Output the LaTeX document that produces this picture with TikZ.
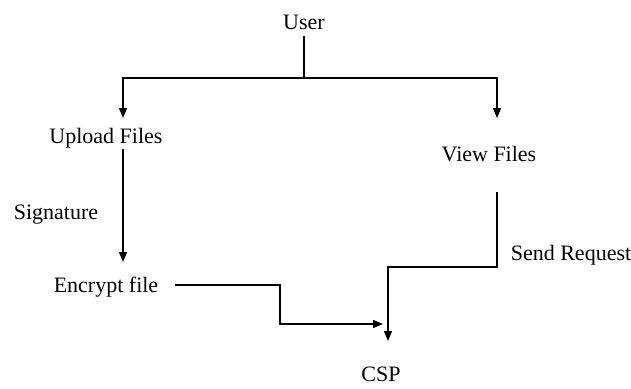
\documentclass[tikz,border=0pt]{standalone}
\usepackage{fontspec}
\setmainfont{Liberation Serif}
\usetikzlibrary{arrows.meta}
\begin{document}
\begin{tikzpicture}[x=1pt,y=-1pt,
  lbl/.style={inner sep=0pt,font=\fontsize{22}{24}\selectfont},
  conn/.style={line width=1.3pt},
  arr/.style={conn,-{Triangle[length=10pt,width=8pt]}}]
\useasboundingbox (0,0) rectangle (631,388);
\node[lbl] (user) at (304,22) {User};
\node[lbl] (upload) at (106,138) {Upload Files};
\node[lbl] (view) at (489,154) {View Files};
\node[lbl] (sig) at (56,215) {Signature};
\node[lbl] (enc) at (106,287) {Encrypt file};
\node[lbl] (send) at (571,255) {Send Request};
\node[lbl] (csp) at (381,374) {CSP};
% coordinates
\coordinate (ustem) at (304,36);
\coordinate (j) at (304,78);
\coordinate (ltip) at (123,118);
\coordinate (rtip) at (497,118);
\coordinate (ustart) at (123,149);
\coordinate (etip) at (123,262);
\coordinate (estart) at (175,285);
\coordinate (ebend) at (280,285);
\coordinate (ebend2) at (280,324);
\coordinate (ctip1) at (383,324);
\coordinate (vstart) at (497,192);
\coordinate (vbend) at (497,267);
\coordinate (vbend2) at (388,267);
\coordinate (ctip2) at (388,341);
\draw[conn] (ustem) -- (j);
\draw[arr] (j) -| (ltip);
\draw[arr] (j) -| (rtip);
\draw[arr] (ustart) -- (etip);
\draw[arr] (estart) -- (ebend) -- (ebend2) -- (ctip1);
\draw[arr] (vstart) -- (vbend) -- (vbend2) -- (ctip2);
\end{tikzpicture}
\end{document}
